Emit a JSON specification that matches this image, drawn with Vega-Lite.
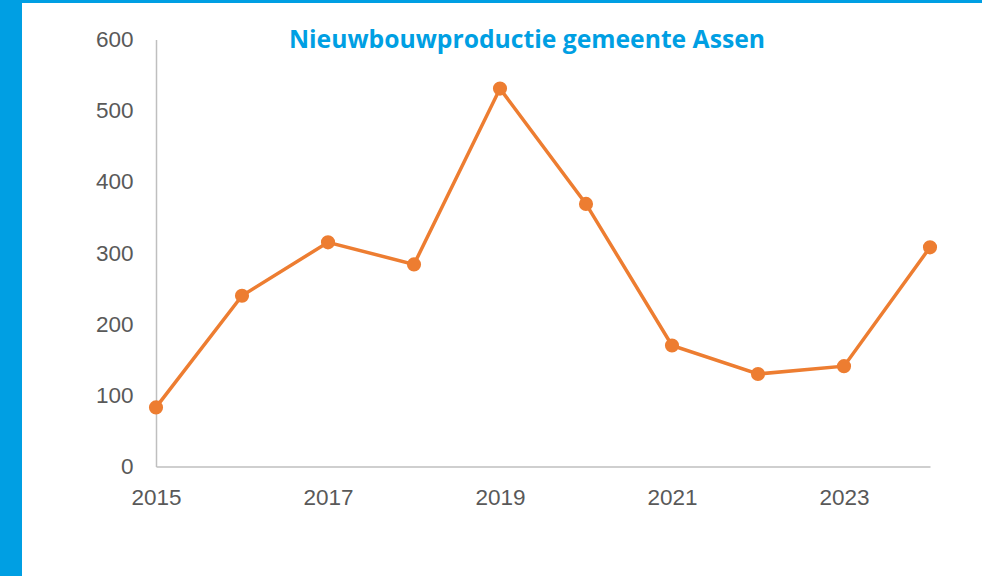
{
  "$schema": "https://vega.github.io/schema/vega-lite/v6.json",
  "width": 960,
  "height": 573,
  "autosize": {"type": "none"},
  "padding": {"left": 22, "top": 3, "right": 0, "bottom": 0},
  "background": "#009FE3",
  "view": {"fill": "#FFFFFF", "stroke": null},
  "title": {
    "text": "Nieuwbouwproductie gemeente Assen",
    "frame": "group",
    "anchor": "middle",
    "orient": "top",
    "baseline": "alphabetic",
    "offset": -70,
    "dx": 25,
    "font": "Open Sans",
    "fontSize": 24.7,
    "fontWeight": "bold",
    "color": "#009FE3"
  },
  "data": {
    "values": [
      {"jaar": 2015, "aantal": 83},
      {"jaar": 2016, "aantal": 240},
      {"jaar": 2017, "aantal": 315},
      {"jaar": 2018, "aantal": 284},
      {"jaar": 2019, "aantal": 531},
      {"jaar": 2020, "aantal": 369},
      {"jaar": 2021, "aantal": 170},
      {"jaar": 2022, "aantal": 130},
      {"jaar": 2023, "aantal": 141},
      {"jaar": 2024, "aantal": 308}
    ]
  },
  "encoding": {
    "x": {
      "field": "jaar",
      "type": "quantitative",
      "scale": {"domain": [2015, 2024], "range": [134, 908], "nice": false, "zero": false},
      "axis": {
        "title": null,
        "values": [2015, 2017, 2019, 2021, 2023],
        "format": "d",
        "offset": -109.5,
        "ticks": false,
        "grid": false,
        "labelFlush": false,
        "labelPadding": 20,
        "labelFont": "Liberation Sans",
        "labelFontSize": 22.5,
        "labelColor": "#595959",
        "domainColor": "#BFBFBF",
        "domainWidth": 1.5
      }
    },
    "y": {
      "field": "aantal",
      "type": "quantitative",
      "scale": {"domain": [0, 600], "range": [463.5, 36.5], "nice": false},
      "axis": {
        "title": null,
        "values": [0, 100, 200, 300, 400, 500, 600],
        "offset": -134,
        "ticks": false,
        "grid": false,
        "labelFlush": false,
        "labelPadding": 23,
        "labelFont": "Liberation Sans",
        "labelFontSize": 22.5,
        "labelColor": "#595959",
        "domainColor": "#BFBFBF",
        "domainWidth": 1.5
      }
    }
  },
  "layer": [
    {"mark": {"type": "line", "color": "#ED7D31", "strokeWidth": 3.5}},
    {"mark": {"type": "point", "filled": true, "color": "#ED7D31", "opacity": 1, "size": 200}}
  ]
}
